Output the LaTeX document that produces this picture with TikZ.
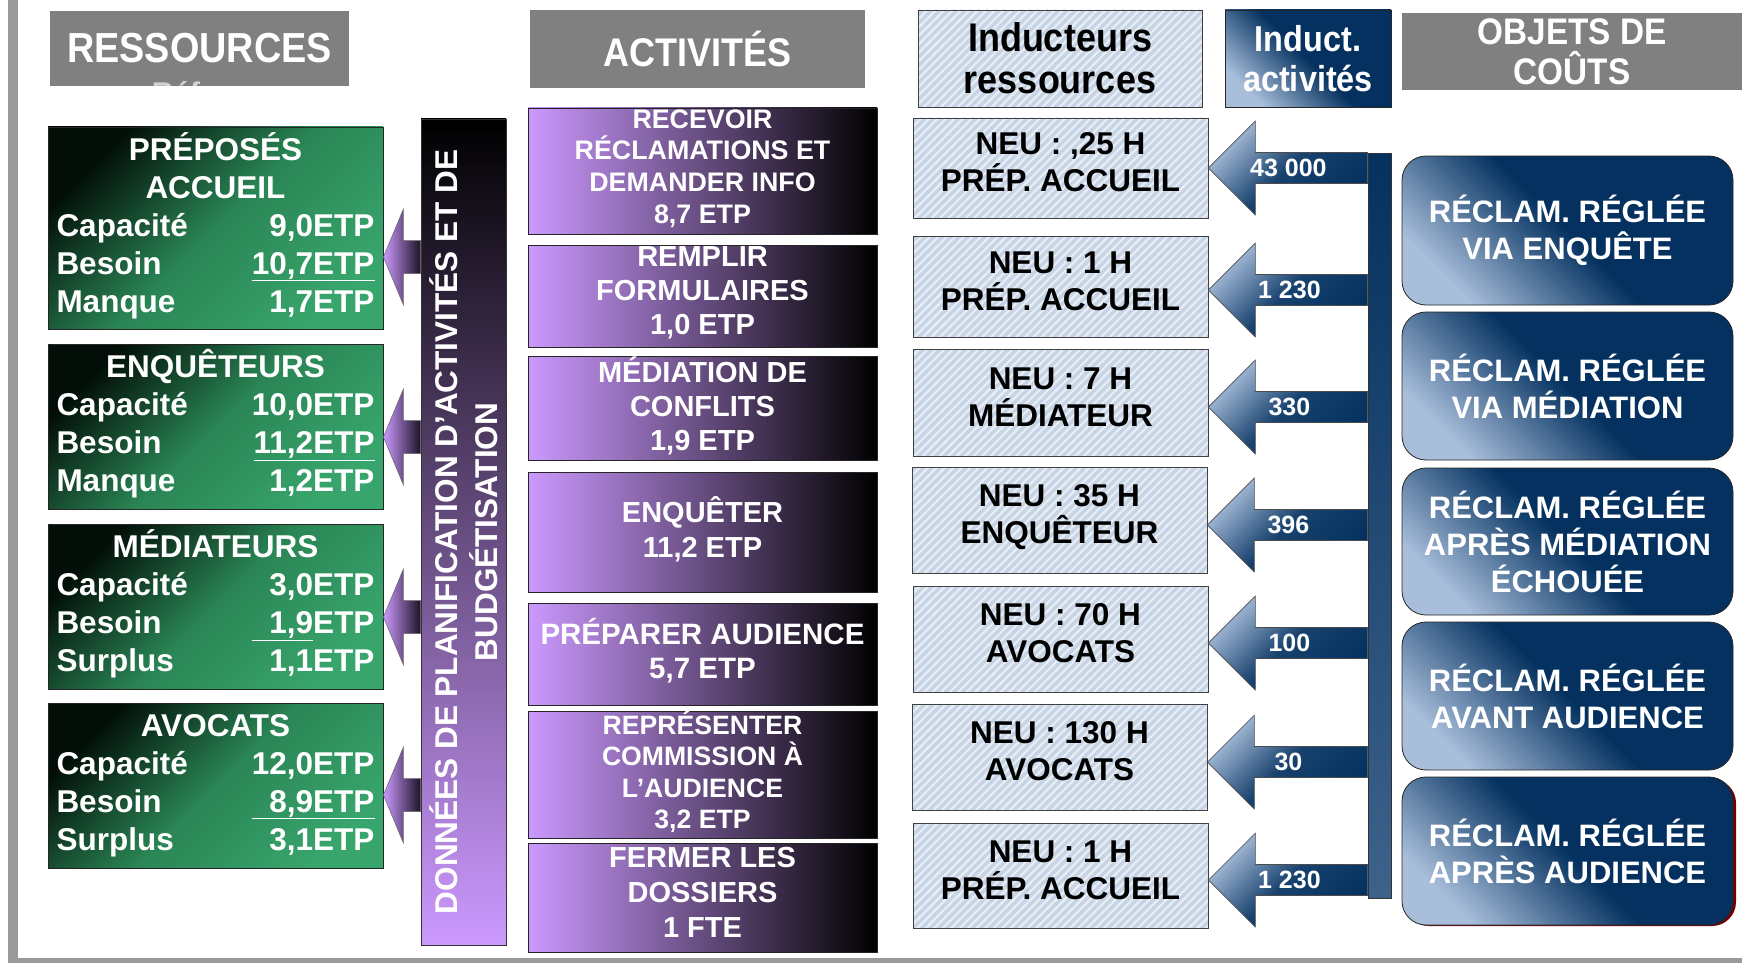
\documentclass[tikz,border=0pt]{standalone}
\usepackage{fontspec}
\setmainfont{Liberation Sans}
\newfontfamily\narrowfont[FakeStretch=0.9]{Liberation Sans}
\usetikzlibrary{calc,patterns.meta}

\definecolor{hdrgray}{HTML}{808080}
\definecolor{framegray}{HTML}{9A9A9A}
\definecolor{greendark}{HTML}{020E07}
\definecolor{greenmid}{HTML}{2A8555}
\definecolor{greenlight}{HTML}{38A56C}
\definecolor{lavender}{HTML}{CC99FF}
\definecolor{plumdark}{HTML}{1E1228}
\definecolor{navy}{HTML}{04315F}
\definecolor{steel}{HTML}{A8BEDB}
\definecolor{hatchblue}{HTML}{C6D4E5}
\definecolor{hatchline}{HTML}{E9EEF5}

% block arrow pointing left: style, tip, tail, shaft half, head half, head length
\newcommand{\blockarr}[6]{%
  \path[#1] let \p1=#2, \p2=#3 in
    (\x1,\y1) -- (\x1+#6,\y1+#5) -- (\x1+#6,\y1+#4) -- (\x2,\y1+#4)
    -- (\x2,\y1-#4) -- (\x1+#6,\y1-#4) -- (\x1+#6,\y1-#5) -- cycle;}

\tikzset{
  header/.style={fill=hdrgray, text=white, inner sep=0pt, align=center},
  resbox/.style={draw=black!85, line width=0.8pt, top color=greendark, bottom color=greenlight,
    middle color=greenmid, shading angle=45, text=white, inner sep=0pt, minimum width=335pt,
    font=\bfseries\fontsize{31.5}{38}\selectfont},
  actbox/.style={draw=black!85, line width=0.8pt, left color=lavender, right color=black,
    text=white, inner sep=0pt, minimum width=349pt, align=center,
    execute at begin node=\strut, execute at end node=\strut},
  hatchbox/.style={preaction={fill=hatchblue}, pattern={Lines[angle=45,distance=6pt,line width=2.2pt]},
    pattern color=hatchline, draw=black!75, line width=0.8pt, inner sep=0pt, align=center},
  indbox/.style={hatchbox, minimum width=295pt, font=\bfseries\fontsize{31.5}{37}\selectfont,
    execute at begin node=\strut, execute at end node=\strut},
  objbox/.style={draw=black!85, line width=0.8pt, top color=navy, bottom color=steel,
    middle color=navy, shading angle=-45, text=white, inner sep=0pt, align=center},
  objfont/.style={font=\bfseries\fontsize{31}{37}\selectfont},
  purplearrow/.style={draw=black!60, line width=0.5pt, left color=lavender, right color=plumdark},
  bluearrow/.style={draw=black!70, line width=0.6pt, top color=steel, bottom color=navy,
    middle color=navy!88!steel, shading angle=45},
  arrlabel/.style={text=white, font=\bfseries\fontsize{25}{25}\selectfont, inner sep=0pt},
}

\begin{document}
\begin{tikzpicture}[x=1pt,y=-1pt]
  \useasboundingbox (0,0) rectangle (1742,963);
  %\draw[help lines] (0,0) grid (1742,963);
  \fill[framegray] (8,0) rectangle (18,963);
  \fill[framegray] (8,958) rectangle (1742,963);

  % column headers
  \node[header, minimum width=299pt, minimum height=75pt, font=\narrowfont\bfseries\fontsize{42}{44}\selectfont] (hres) at (199.5,48.5) {RESSOURCES};
  \begin{scope}
    \clip (50,11) rectangle (349,86);
    \node[text=gray!35, inner sep=0pt, anchor=north, font=\bfseries\fontsize{30}{30}\selectfont] (ghost) at (176,81) {Réf};
  \end{scope}
  \node[header, minimum width=335pt, minimum height=78pt, font=\narrowfont\bfseries\fontsize{40}{42}\selectfont] (hact) at (697.5,49) {ACTIVITÉS};
  \node[hatchbox, minimum width=284pt, minimum height=97pt, font=\narrowfont\bfseries\fontsize{40}{42}\selectfont] (hind) at (1060,58.5) {Inducteurs\\ressources};
  \node[objbox, minimum width=166pt, minimum height=97pt, font=\narrowfont\bfseries\fontsize{36}{40}\selectfont] (hinda) at (1308,58.5) {Induct.\\activités};
  \node[header, minimum width=340pt, minimum height=77pt, font=\narrowfont\bfseries\fontsize{37}{40}\selectfont] (hobj) at (1572,51.5) {OBJETS DE\\COÛTS};

  % resources
  \node[resbox, minimum height=202pt] (res1) at (215.5,228) {\begin{tabular*}{318pt}{@{}l@{\extracolsep{\fill}}r@{}}
    \multicolumn{2}{c}{PRÉPOSÉS}\\
    \multicolumn{2}{c}{ACCUEIL}\\
    Capacité & 9,0ETP\\
    Besoin & \underline{10,7ETP}\\
    Manque & 1,7ETP
  \end{tabular*}};
  \node[resbox, minimum height=165pt] (res2) at (215.5,426.5) {\begin{tabular*}{318pt}{@{}l@{\extracolsep{\fill}}r@{}}
    \multicolumn{2}{c}{ENQUÊTEURS}\\
    Capacité & 10,0ETP\\
    Besoin & \underline{11,2ETP}\\
    Manque & 1,2ETP
  \end{tabular*}};
  \node[resbox, minimum height=165pt] (res3) at (215.5,606.5) {\begin{tabular*}{318pt}{@{}l@{\extracolsep{\fill}}r@{}}
    \multicolumn{2}{c}{MÉDIATEURS}\\
    Capacité & 3,0ETP\\
    Besoin & \underline{\hphantom{0}1,9}ETP\\
    Surplus & 1,1ETP
  \end{tabular*}};
  \node[resbox, minimum height=165pt] (res4) at (215.5,785.5) {\begin{tabular*}{318pt}{@{}l@{\extracolsep{\fill}}r@{}}
    \multicolumn{2}{c}{AVOCATS}\\
    Capacité & 12,0ETP\\
    Besoin & \underline{\hphantom{0}8,9ETP}\\
    Surplus & 3,1ETP
  \end{tabular*}};

  % planning bar
  \node[draw=black!80, line width=0.8pt, top color=black, bottom color=lavender, minimum width=85pt, minimum height=826pt, inner sep=0pt] (bar) at (463.5,532) {};
  \node[rotate=90, text=white, align=center, inner sep=0pt, font=\bfseries\fontsize{31.5}{40}\selectfont] (bartxt) at (bar.center) {DONNÉES DE PLANIFICATION D’ACTIVITÉS ET DE\\BUDGÉTISATION};
  \blockarr{purplearrow}{($(res1.east)+(0,29)$)}{(bar.west)}{16.5pt}{48pt}{20pt}
  \blockarr{purplearrow}{($(res2.east)+(0,10.5)$)}{(bar.west)}{16.5pt}{48pt}{20pt}
  \blockarr{purplearrow}{($(res3.east)+(0,10.5)$)}{(bar.west)}{16.5pt}{48pt}{20pt}
  \blockarr{purplearrow}{($(res4.east)+(0,9.5)$)}{(bar.west)}{16.5pt}{48pt}{20pt}

  % activities
  \node[actbox, minimum height=126pt, font=\bfseries\fontsize{26.8}{31.7}\selectfont] (act1) at (702.5,171) {RECEVOIR\\RÉCLAMATIONS ET\\DEMANDER INFO\\8,7 ETP};
  \node[actbox, minimum height=102pt, font=\bfseries\fontsize{29}{34}\selectfont] (act2) at (702.5,296) {REMPLIR\\FORMULAIRES\\1,0 ETP};
  \node[actbox, minimum height=101pt, font=\bfseries\fontsize{29}{34}\selectfont] (act3) at (702.5,408.5) {MÉDIATION DE\\CONFLITS\\1,9 ETP};
  \node[actbox, minimum height=120pt, font=\bfseries\fontsize{29}{35}\selectfont] (act4) at (702.5,532) {ENQUÊTER\\11,2 ETP};
  \node[actbox, minimum height=102pt, font=\bfseries\fontsize{29.5}{34}\selectfont] (act5) at (702.5,654) {PRÉPARER AUDIENCE\\5,7 ETP};
  \node[actbox, minimum height=125pt, font=\bfseries\fontsize{26.6}{31.3}\selectfont] (act6) at (702.5,774.5) {REPRÉSENTER\\COMMISSION À\\L’AUDIENCE\\3,2 ETP};
  \node[actbox, minimum height=109pt, font=\bfseries\fontsize{29}{35}\selectfont] (act7) at (702.5,897.5) {FERMER LES\\DOSSIERS\\1 FTE};

  % resource drivers
  \node[indbox, minimum height=100pt] (ind1) at (1060.5,168) {NEU : ,25 H\\PRÉP. ACCUEIL};
  \node[indbox, minimum height=101pt] (ind2) at (1060.5,286.5) {NEU : 1 H\\PRÉP. ACCUEIL};
  \node[indbox, minimum height=107pt] (ind3) at (1060.5,402.5) {NEU : 7 H\\MÉDIATEUR};
  \node[indbox, minimum height=106pt] (ind4) at (1059.5,520) {NEU : 35 H\\ENQUÊTEUR};
  \node[indbox, minimum height=106pt] (ind5) at (1060.5,639) {NEU : 70 H\\AVOCATS};
  \node[indbox, minimum height=106pt] (ind6) at (1059.5,757) {NEU : 130 H\\AVOCATS};
  \node[indbox, minimum height=105pt] (ind7) at (1060.5,875.5) {NEU : 1 H\\PRÉP. ACCUEIL};

  % activity drivers
  \node[draw=black!80, line width=0.8pt, top color=navy, bottom color=navy!65!steel, minimum width=23pt, minimum height=745pt, inner sep=0pt] (vbar) at (1379.5,525.5) {};
  \blockarr{bluearrow}{(ind1.east)}{(vbar.west)}{15.5pt}{47pt}{47pt}
  \blockarr{bluearrow}{($(ind2.east)+(0,3.5)$)}{(vbar.west)}{15.5pt}{47pt}{47pt}
  \blockarr{bluearrow}{($(ind3.east)+(0,4.5)$)}{(vbar.west)}{15.5pt}{47pt}{47pt}
  \blockarr{bluearrow}{($(ind4.east)+(0,5)$)}{(vbar.west)}{15.5pt}{47pt}{47pt}
  \blockarr{bluearrow}{($(ind5.east)+(0,4)$)}{(vbar.west)}{15.5pt}{47pt}{47pt}
  \blockarr{bluearrow}{($(ind6.east)+(0,5)$)}{(vbar.west)}{15.5pt}{47pt}{47pt}
  \blockarr{bluearrow}{($(ind7.east)+(0,4.5)$)}{(vbar.west)}{15.5pt}{47pt}{47pt}
  \node[arrlabel] (lab1) at ($(ind1.east)+(80,0)$) {43 000};
  \node[arrlabel] (lab2) at ($(ind2.east)+(81,3.5)$) {1 230};
  \node[arrlabel] (lab3) at ($(ind3.east)+(81,4.5)$) {330};
  \node[arrlabel] (lab4) at ($(ind4.east)+(81,5)$) {396};
  \node[arrlabel] (lab5) at ($(ind5.east)+(81,4)$) {100};
  \node[arrlabel] (lab6) at ($(ind6.east)+(81,5)$) {30};
  \node[arrlabel] (lab7) at ($(ind7.east)+(81,4.5)$) {1 230};

  % cost objects
  \node[objbox, rounded corners=24pt, objfont, minimum width=331pt, minimum height=149pt] (obj1) at (1567.5,230.5) {RÉCLAM. RÉGLÉE\\VIA ENQUÊTE};
  \node[objbox, rounded corners=24pt, objfont, minimum width=331pt, minimum height=148pt] (obj2) at (1567.5,386) {RÉCLAM. RÉGLÉE\\VIA MÉDIATION};
  \node[objbox, rounded corners=24pt, objfont, minimum width=331pt, minimum height=147pt] (obj3) at (1567.5,541.5) {RÉCLAM. RÉGLÉE\\APRÈS MÉDIATION\\ÉCHOUÉE};
  \node[objbox, rounded corners=24pt, objfont, minimum width=331pt, minimum height=148pt] (obj4) at (1567.5,696) {RÉCLAM. RÉGLÉE\\AVANT AUDIENCE};
  \fill[red!45!black, rounded corners=24pt] (1405,779) rectangle (1736,926);
  \node[objbox, rounded corners=24pt, objfont, minimum width=331pt, minimum height=148pt] (obj5) at (1567.5,851) {RÉCLAM. RÉGLÉE\\APRÈS AUDIENCE};
\end{tikzpicture}
\end{document}
